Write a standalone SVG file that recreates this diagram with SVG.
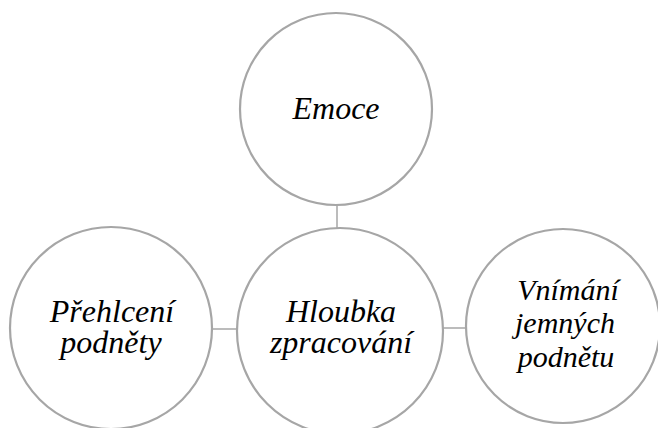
<svg xmlns="http://www.w3.org/2000/svg" width="658" height="428" viewBox="0 0 658 428">
<style>
.n{fill:#fff;stroke:#a6a6a6;stroke-width:2.2}
.c{stroke:#a6a6a6;stroke-width:1.5;fill:none}
.t{font-family:"Liberation Serif","Times New Roman",serif;font-style:italic;font-size:32px;fill:#000;text-anchor:middle}
.s{font-size:30px}
</style>
<rect width="658" height="428" fill="#fff"/>
<g id="connectors">
<line class="c" x1="337" y1="205" x2="337" y2="228"/>
<line class="c" x1="212" y1="329" x2="237" y2="329"/>
<line class="c" x1="443" y1="328" x2="466" y2="328"/>
</g>
<g id="emoce">
<circle class="n" cx="336" cy="109" r="96"/>
<text class="t" x="336" y="119">Emoce</text>
</g>
<g id="prehlceni">
<circle class="n" cx="111" cy="328" r="101"/>
<text class="t" x="112" y="322">Přehlcení</text>
<text class="t" x="111" y="353">podněty</text>
</g>
<g id="hloubka">
<circle class="n" cx="340" cy="331" r="103"/>
<text class="t" x="341" y="322">Hloubka</text>
<text class="t" x="341" y="353">zpracování</text>
</g>
<g id="vnimani">
<circle class="n" cx="563" cy="326" r="97"/>
<text class="t s" x="568" y="300">Vnímání</text>
<text class="t s" x="565" y="333">jemných</text>
<text class="t s" x="566" y="367">podnětu</text>
</g>
</svg>
